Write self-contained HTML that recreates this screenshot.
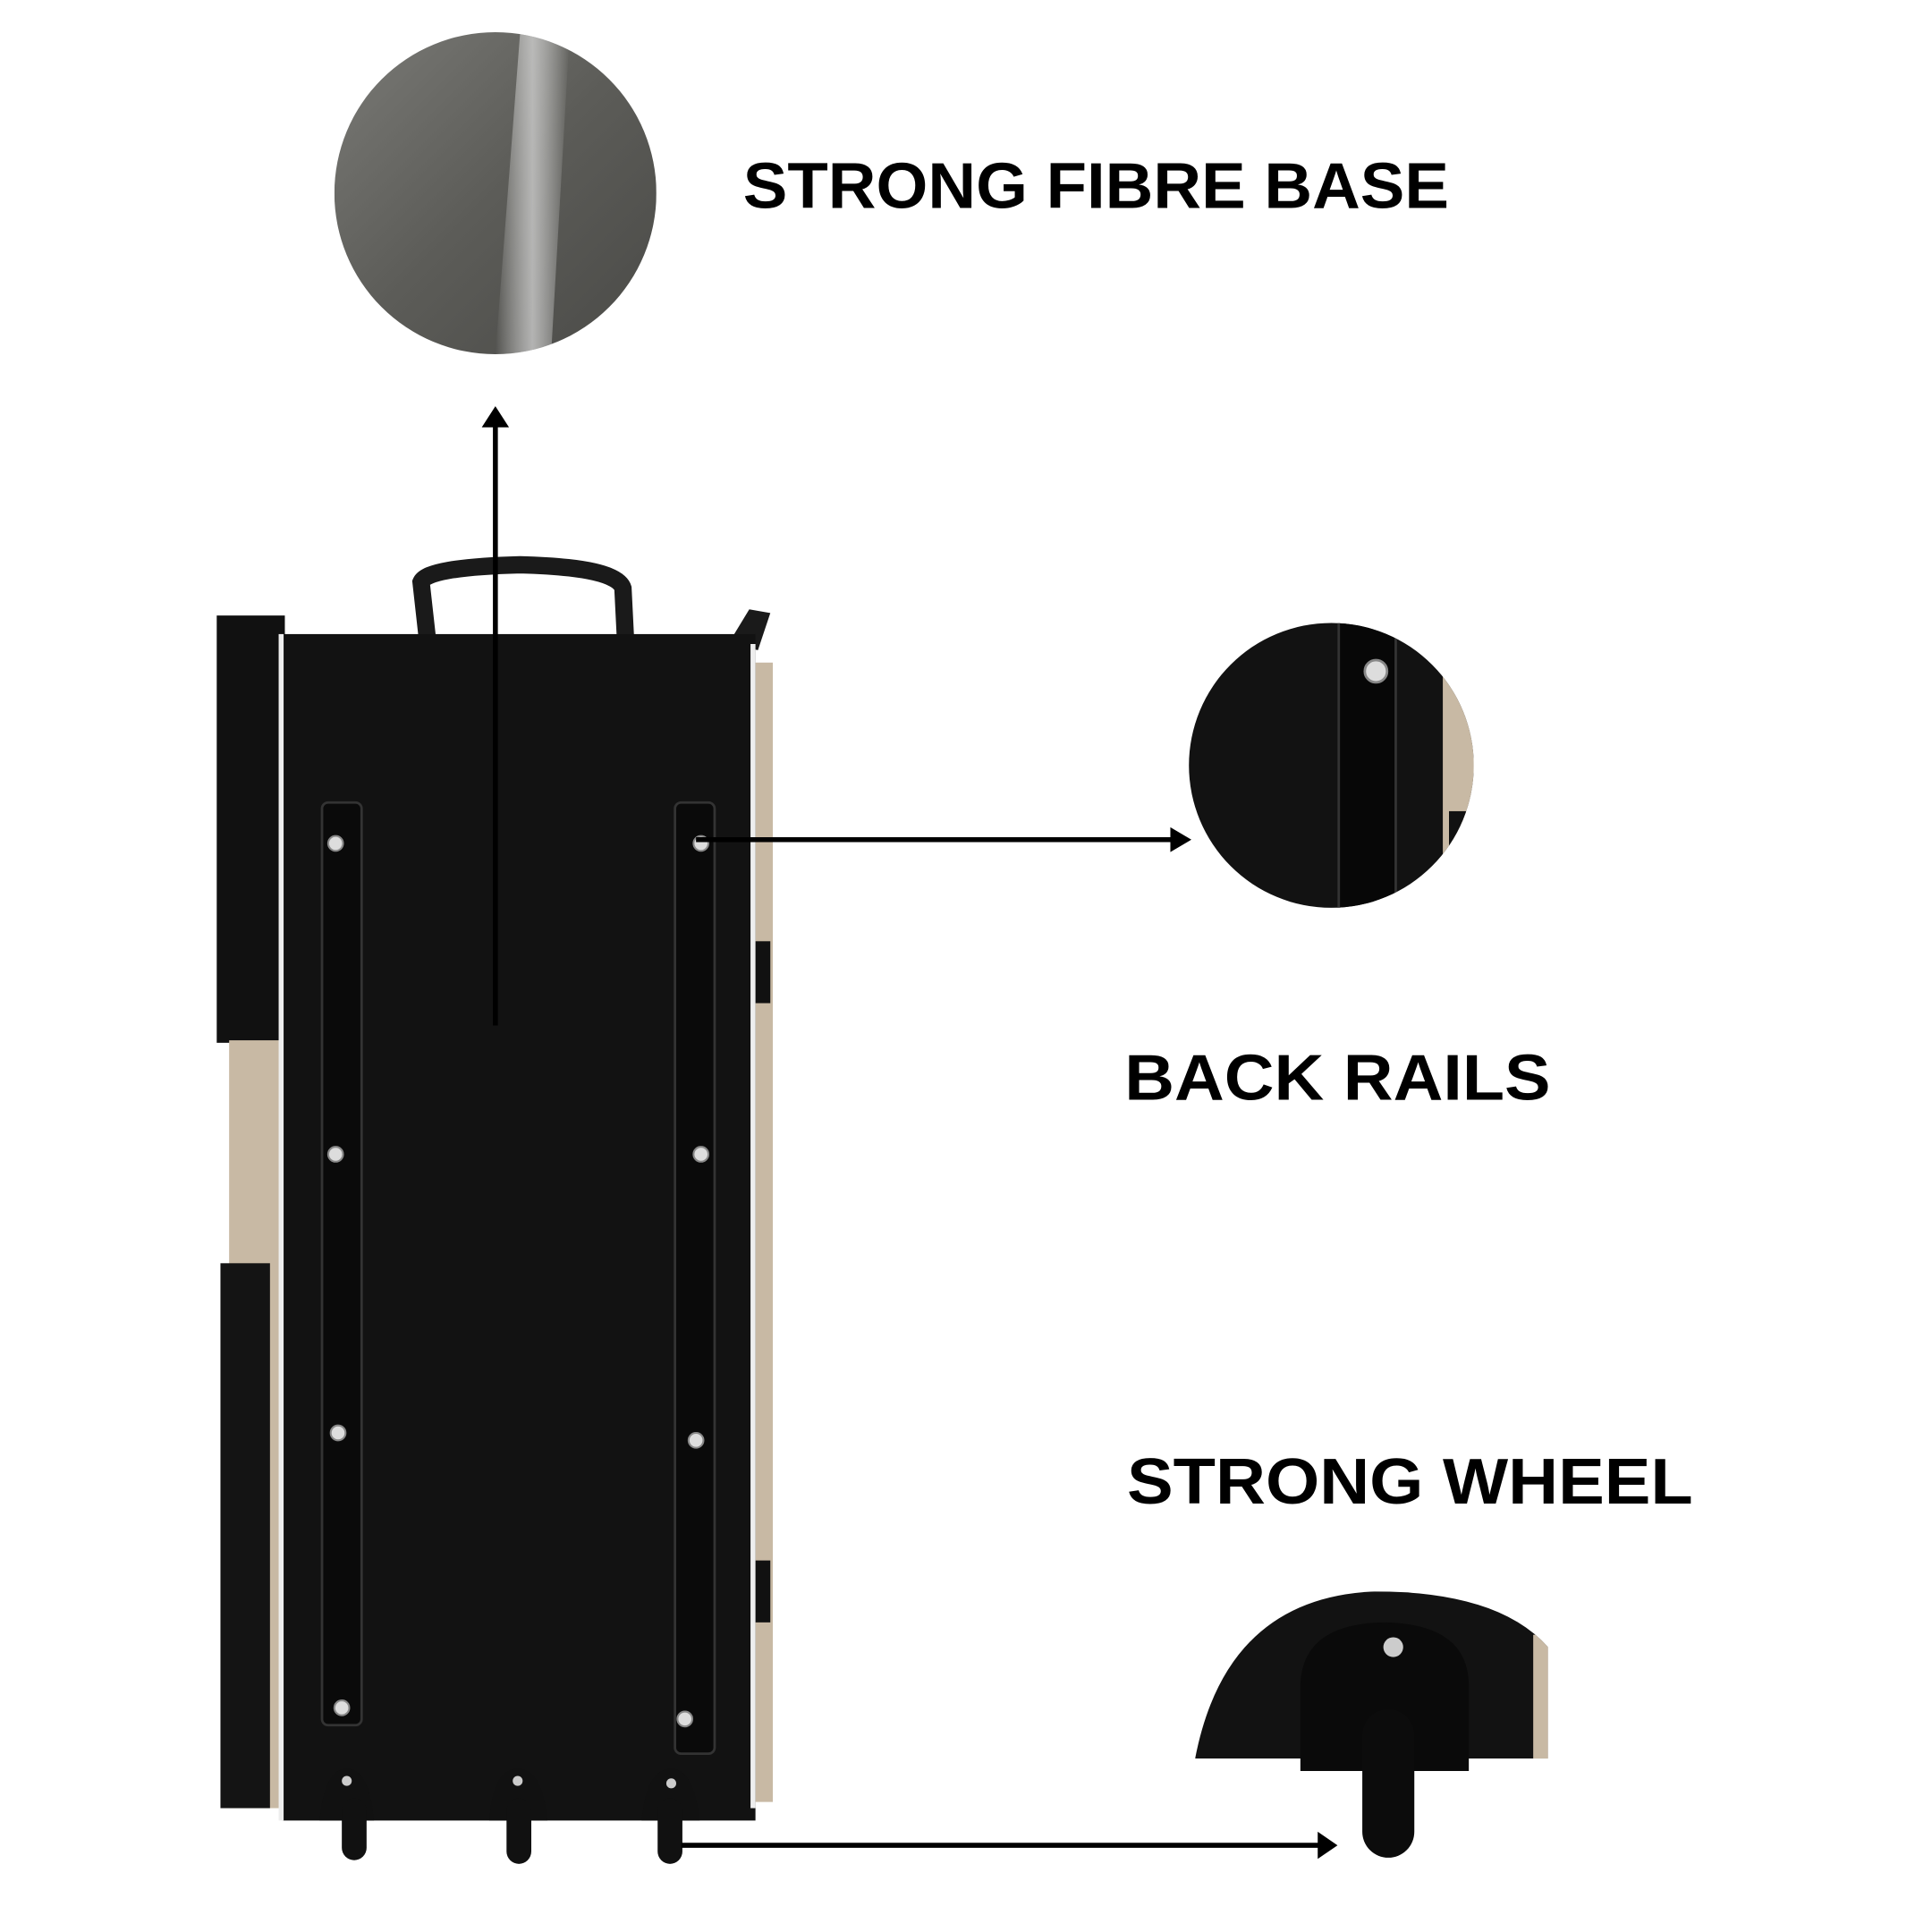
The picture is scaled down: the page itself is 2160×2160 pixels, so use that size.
<!DOCTYPE html>
<html><head><meta charset="utf-8"><style>
html,body{margin:0;padding:0;background:#fff}
svg{display:block}
text{font-family:"Liberation Sans",sans-serif;font-weight:bold;fill:#000}
</style></head><body>
<svg width="2160" height="2160" viewBox="0 0 1560 1560" xmlns="http://www.w3.org/2000/svg">
<defs>
<linearGradient id="g1" x1="0" y1="0" x2="1" y2="1">
<stop offset="0" stop-color="#7a7a76"/><stop offset="0.5" stop-color="#5c5c58"/><stop offset="1" stop-color="#4a4a47"/>
</linearGradient>
<linearGradient id="streak" x1="0" y1="0" x2="1" y2="0">
<stop offset="0" stop-color="#fff" stop-opacity="0"/><stop offset="0.5" stop-color="#ddd" stop-opacity="0.7"/><stop offset="1" stop-color="#fff" stop-opacity="0"/>
</linearGradient>
<clipPath id="c1"><circle cx="400" cy="156" r="130"/></clipPath>
<clipPath id="c2"><circle cx="1075" cy="618" r="115"/></clipPath>
<clipPath id="c3"><path d="M965 1420 Q990 1290 1110 1285 Q1210 1285 1250 1330 L1250 1420 Z"/></clipPath>
</defs>
<!-- fibre base circle -->
<g clip-path="url(#c1)">
<rect x="270" y="26" width="260" height="260" fill="url(#g1)"/>
<path d="M420 26 L460 26 L445 286 L400 286 Z" fill="url(#streak)"/>
</g>
<text x="600" y="168" font-size="52" textLength="570" lengthAdjust="spacingAndGlyphs">STRONG FIBRE BASE</text>
<!-- bag -->
<rect x="175" y="497" width="55" height="345" fill="#111"/>
<rect x="185" y="840" width="50" height="620" fill="#c8b9a4"/>
<rect x="178" y="1020" width="40" height="440" fill="#141414"/>
<path d="M345 515 L340 470 Q345 458 420 456 Q498 458 503 475 L505 515" fill="none" stroke="#1a1a1a" stroke-width="14"/>
<path d="M588 520 L605 492 L622 495 L612 525 Z" fill="#1a1a1a"/>
<rect x="600" y="535" width="24" height="920" fill="#c8b9a4"/>
<rect x="604" y="760" width="18" height="50" fill="#111"/>
<rect x="604" y="1260" width="18" height="50" fill="#111"/>
<rect x="228" y="512" width="382" height="958" fill="#121212"/>
<rect x="225" y="512" width="4" height="958" fill="#eee"/>
<rect x="606" y="520" width="4" height="940" fill="#eee"/>
<!-- rails -->
<rect x="260" y="648" width="32" height="745" rx="5" fill="#0a0a0a" stroke="#333" stroke-width="2"/>
<rect x="545" y="648" width="32" height="768" rx="5" fill="#0a0a0a" stroke="#333" stroke-width="2"/>
<g fill="#ddd" stroke="#888" stroke-width="1.5">
<circle cx="271" cy="681" r="6"/><circle cx="271" cy="932" r="6"/><circle cx="273" cy="1157" r="6"/><circle cx="276" cy="1379" r="6"/>
<circle cx="566" cy="681" r="6"/><circle cx="566" cy="932" r="6"/><circle cx="562" cy="1163" r="6"/><circle cx="553" cy="1388" r="6"/>
</g>
<!-- wheels -->
<g fill="#111">
<path d="M258 1470 Q262 1428 280 1428 Q298 1428 302 1470 Z"/>
<path d="M395 1470 Q398 1428 418 1428 Q438 1428 442 1470 Z"/>
<path d="M518 1470 Q522 1428 542 1428 Q560 1428 565 1470 Z"/>
<rect x="276" y="1452" width="20" height="50" rx="10"/>
<rect x="409" y="1452" width="20" height="53" rx="10"/>
<rect x="531" y="1452" width="20" height="53" rx="10"/>
</g>
<g fill="#ccc"><circle cx="280" cy="1438" r="4"/><circle cx="418" cy="1438" r="4"/><circle cx="542" cy="1440" r="4"/></g>
<!-- up arrow -->
<line x1="400" y1="828" x2="400" y2="340" stroke="#000" stroke-width="4"/>
<path d="M389 345 L400 328 L411 345 Z" fill="#000"/>
<!-- right arrows -->
<line x1="562" y1="678" x2="950" y2="678" stroke="#000" stroke-width="4"/>
<path d="M945 668 L962 678 L945 688 Z" fill="#000"/>
<line x1="550" y1="1490" x2="1068" y2="1490" stroke="#000" stroke-width="4"/>
<path d="M1064 1479 L1080 1490 L1064 1501 Z" fill="#000"/>
<!-- rails circle -->
<g clip-path="url(#c2)">
<rect x="900" y="480" width="290" height="280" fill="#121212"/>
<rect x="1165" y="480" width="30" height="280" fill="#c8b9a4"/>
<rect x="1170" y="655" width="20" height="70" fill="#111"/>
<rect x="1081" y="490" width="46" height="280" rx="5" fill="#070707" stroke="#333" stroke-width="2"/>
<circle cx="1111" cy="542" r="9" fill="#ddd" stroke="#888" stroke-width="2"/>
</g>
<rect x="1190" y="480" width="20" height="280" fill="#fff"/>
<text x="908" y="888" font-size="52" textLength="344" lengthAdjust="spacingAndGlyphs">BACK RAILS</text>
<text x="910" y="1214" font-size="52" textLength="457" lengthAdjust="spacingAndGlyphs">STRONG WHEEL</text>
<!-- wheel detail -->
<g clip-path="url(#c3)">
<rect x="960" y="1280" width="290" height="145" fill="#121212"/>
<rect x="1238" y="1320" width="14" height="105" fill="#c8b9a4"/>
</g>
<path d="M1050 1430 L1050 1360 Q1052 1310 1120 1310 Q1185 1312 1186 1360 L1186 1430 Z" fill="#0a0a0a"/>
<circle cx="1125" cy="1330" r="8" fill="#ccc"/>
<rect x="1100" y="1380" width="42" height="120" rx="21" fill="#0c0c0c"/>
</svg>
</body></html>
